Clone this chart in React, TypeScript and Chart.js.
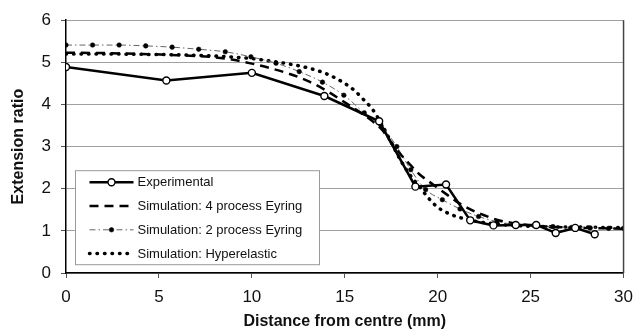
import React, { useEffect, useRef } from "react";
import { Chart, registerables } from "chart.js";

Chart.register(...registerables);

const expX = [0, 5.4, 10, 13.9, 16.85, 18.8, 20.45, 21.75, 23.0, 24.2, 25.3, 26.35, 27.4, 28.45];
const expY = [4.89, 4.57, 4.75, 4.2, 3.6, 2.05, 2.1, 1.25, 1.13, 1.14, 1.14, 0.95, 1.07, 0.92];

const eyring4X = [0, 2, 4, 6, 8, 9, 10, 11, 12, 13, 14, 15, 16, 16.5, 17, 17.5, 18, 18.5, 19, 19.5, 20, 20.5, 21, 21.5, 22, 22.5, 23, 23.5, 24, 25, 26, 27, 28, 29, 30];
const eyring4Y = [5.23, 5.22, 5.2, 5.17, 5.12, 5.06, 4.97, 4.86, 4.73, 4.56, 4.33, 4.05, 3.76, 3.6, 3.4, 3.1, 2.82, 2.58, 2.35, 2.18, 2.02, 1.86, 1.7, 1.57, 1.46, 1.37, 1.29, 1.23, 1.19, 1.13, 1.1, 1.08, 1.07, 1.06, 1.05];

const eyring2X = [0, 1.43, 2.86, 4.29, 5.71, 7.14, 8.57, 9.95, 11.3, 12.55, 13.8, 14.95, 16.05, 16.95, 17.8, 18.55, 19.35, 20.25, 21.2, 22.2, 23.2, 24.2, 25.2, 26.2, 27.2, 28.2, 29.2, 30];
const eyring2Y = [5.41, 5.41, 5.41, 5.39, 5.36, 5.31, 5.25, 5.13, 4.98, 4.78, 4.53, 4.22, 3.8, 3.5, 3.0, 2.45, 1.98, 1.74, 1.52, 1.34, 1.22, 1.15, 1.12, 1.1, 1.08, 1.07, 1.06, 1.06];

const hyperX = [0, 2, 4, 6, 8, 10, 11, 12, 13, 14, 15, 15.5, 16, 16.5, 17, 17.5, 18, 18.5, 19, 19.5, 20, 20.5, 21, 21.5, 22, 23, 24, 25, 26, 27, 28, 29, 30];
const hyperY = [5.2, 5.2, 5.19, 5.18, 5.15, 5.09, 5.03, 4.96, 4.87, 4.73, 4.5, 4.34, 4.12, 3.88, 3.52, 3.1, 2.68, 2.33, 2.06, 1.78, 1.56, 1.43, 1.34, 1.28, 1.23, 1.17, 1.13, 1.11, 1.1, 1.09, 1.09, 1.08, 1.08];

const seriesLabels = [
  "Experimental",
  "Simulation: 4 process Eyring",
  "Simulation: 2 process Eyring",
  "Simulation: Hyperelastic",
];

const xTitle = "Distance from centre (mm)";
const yTitle = "Extension ratio";

const zip = (xs: number[], ys: number[]) => xs.map((x, i) => ({ x, y: ys[i] }));

const FONT = '"Liberation Sans", Arial, sans-serif';

const boxPlugin = {
  id: "boxLegend",
  afterDraw(chart: any) {
    const ctx = chart.ctx as CanvasRenderingContext2D;
    const { left, top, right, bottom } = chart.chartArea;
    ctx.save();
    // right border
    ctx.strokeStyle = "#444";
    ctx.lineWidth = 1.5;
    ctx.beginPath();
    ctx.moveTo(right, top);
    ctx.lineTo(right, bottom);
    ctx.stroke();
    // legend box
    const bx = left + 9.5;
    const by = top + 150.5;
    const bw = 244;
    const bh = 94;
    ctx.fillStyle = "#fff";
    ctx.fillRect(bx, by, bw, bh);
    ctx.strokeStyle = "#999";
    ctx.lineWidth = 1;
    ctx.strokeRect(bx, by, bw, bh);
    chart.data.datasets.forEach((ds: any, i: number) => {
      const y = by + 11.5 + i * 23.8;
      const x0 = bx + 14;
      const x1 = bx + 58;
      ctx.setLineDash(ds.borderDash || []);
      ctx.lineCap = ds.borderCapStyle || "butt";
      ctx.lineWidth = ds.borderWidth;
      ctx.strokeStyle = ds.borderColor;
      ctx.beginPath();
      ctx.moveTo(x0, y);
      ctx.lineTo(x1, y);
      ctx.stroke();
      ctx.setLineDash([]);
      ctx.lineCap = "butt";
      if (ds.pointRadius > 0) {
        ctx.beginPath();
        ctx.arc((x0 + x1) / 2, y, ds.pointRadius, 0, Math.PI * 2);
        ctx.fillStyle = ds.pointBackgroundColor;
        ctx.fill();
        ctx.lineWidth = ds.pointBorderWidth;
        ctx.strokeStyle = ds.pointBorderColor;
        ctx.stroke();
      }
      ctx.fillStyle = "#111";
      ctx.font = `13px ${FONT}`;
      ctx.textBaseline = "middle";
      ctx.textAlign = "left";
      ctx.fillText(ds.label, bx + 62, y + 0.5);
    });
    ctx.restore();
  },
};

export default function App() {
  const ref = useRef<HTMLCanvasElement | null>(null);

  useEffect(() => {
    document.body.style.margin = "0";
    if (!ref.current) return;
    const chart = new Chart(ref.current, {
      type: "line",
      data: {
        datasets: [
          {
            label: seriesLabels[0],
            data: zip(expX, expY),
            borderColor: "#000",
            borderWidth: 2.5,
            tension: 0,
            pointRadius: 3.5,
            pointBackgroundColor: "#fff",
            pointBorderColor: "#000",
            pointBorderWidth: 1.4,
          },
          {
            label: seriesLabels[1],
            data: zip(eyring4X, eyring4Y),
            borderColor: "#000",
            borderWidth: 2.5,
            borderDash: [9, 6],
            cubicInterpolationMode: "monotone",
            pointRadius: 0,
          },
          {
            label: seriesLabels[2],
            data: zip(eyring2X, eyring2Y),
            borderColor: "#666",
            borderWidth: 1,
            borderDash: [6, 3, 1.5, 3],
            cubicInterpolationMode: "monotone",
            pointRadius: 2.3,
            pointBackgroundColor: "#000",
            pointBorderColor: "#000",
            pointBorderWidth: 0.5,
          },
          {
            label: seriesLabels[3],
            data: zip(hyperX, hyperY),
            borderColor: "#000",
            borderWidth: 3.5,
            borderDash: [0.5, 7],
            borderCapStyle: "round",
            cubicInterpolationMode: "monotone",
            pointRadius: 0,
          },
        ] as any,
      },
      options: {
        animation: false,
        responsive: true,
        maintainAspectRatio: false,
        parsing: true,
        layout: { padding: { top: 20, right: 10, left: 0, bottom: 0 } },
        plugins: {
          legend: { display: false },
          tooltip: { enabled: false },
        },
        scales: {
          x: {
            type: "linear",
            min: 0,
            max: 30,
            ticks: {
              stepSize: 5,
              color: "#111",
              font: { family: FONT, size: 17 },
              padding: 9,
              maxRotation: 0,
            },
            grid: {
              drawOnChartArea: false,
              drawTicks: true,
              tickLength: 5,
              tickColor: "#555",
            },
            border: { color: "#000", width: 1.5 },
            title: {
              display: true,
              text: xTitle,
              color: "#111",
              font: { family: FONT, size: 16, weight: "bold" },
              padding: { top: 0, bottom: 3 },
            },
            afterFit: (s: any) => {
              s.height = 61;
            },
          },
          y: {
            type: "linear",
            min: 0,
            max: 6,
            ticks: {
              stepSize: 1,
              color: "#111",
              font: { family: FONT, size: 17 },
              padding: 10,
            },
            grid: {
              color: "#a0a0a0",
              lineWidth: 1,
              drawTicks: true,
              tickLength: 5,
              tickColor: "#555",
            },
            border: { color: "#000", width: 1.5 },
            title: {
              display: true,
              text: yTitle,
              color: "#111",
              font: { family: FONT, size: 16, weight: "bold" },
              padding: { top: 9, bottom: 0 },
            },
            afterFit: (s: any) => {
              s.width = 66;
            },
          },
        },
      } as any,
      plugins: [boxPlugin],
    });
    return () => chart.destroy();
  }, []);

  return (
    <div style={{ width: 642, height: 334, position: "relative" }}>
      <canvas ref={ref} />
    </div>
  );
}
